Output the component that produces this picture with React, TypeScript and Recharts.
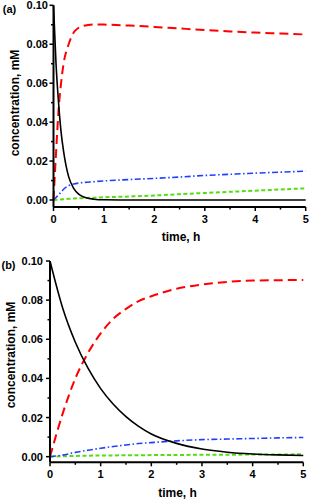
import { LineChart, Line, XAxis, YAxis } from "recharts";

// panel (a)
const timeA = [0, 0.05, 0.1, 0.15, 0.2, 0.3, 0.4, 0.5, 0.6, 0.8, 1, 1.5, 2, 2.5, 3, 3.5, 4, 4.5, 5];
const blackA = [0.1, 0.07, 0.05, 0.035, 0.025, 0.012, 0.006, 0.003, 0.0015, 0.0004, 0.0001, 0, 0, 0, 0, 0, 0, 0, 0];
const redA = [0, 0.024, 0.046, 0.06, 0.07, 0.08, 0.086, 0.0885, 0.0895, 0.0902, 0.0901, 0.0896, 0.0889, 0.0881, 0.0873, 0.0866, 0.086, 0.0855, 0.085];
const blueA = [0, 0.0013, 0.0027, 0.004, 0.0055, 0.0073, 0.0082, 0.0087, 0.009, 0.0094, 0.0098, 0.0105, 0.0111, 0.0118, 0.0126, 0.0132, 0.0138, 0.0143, 0.0148];
const greenA = [0, 0.0001, 0.0002, 0.0003, 0.0004, 0.0006, 0.0008, 0.0009, 0.001, 0.0012, 0.0014, 0.0018, 0.0023, 0.003, 0.0036, 0.0042, 0.0048, 0.0054, 0.006];

// panel (b)
const timeB = [0, 0.25, 0.5, 0.75, 1, 1.25, 1.5, 1.75, 2, 2.5, 3, 3.5, 4, 4.5, 5];
const blackB = [0.1, 0.076, 0.0585, 0.0452, 0.0348, 0.0268, 0.0205, 0.0155, 0.0116, 0.0068, 0.0039, 0.0023, 0.0014, 0.0009, 0.0006];
const redB = [0, 0.022, 0.04, 0.053, 0.063, 0.0705, 0.0755, 0.0795, 0.082, 0.0858, 0.088, 0.0893, 0.09, 0.0902, 0.0903];
const blueB = [0, 0.0008, 0.0022, 0.0033, 0.0043, 0.0052, 0.006, 0.0067, 0.0072, 0.0081, 0.0087, 0.009, 0.0093, 0.0096, 0.0098];
const greenB = [0, 0.0002, 0.0004, 0.0005, 0.0006, 0.00065, 0.0007, 0.00075, 0.0008, 0.0009, 0.00095, 0.001, 0.0011, 0.00115, 0.0012];

const xMajor = [0, 1, 2, 3, 4, 5];
const xMinor = [0.5, 1.5, 2.5, 3.5, 4.5];
const xLabels = ["0", "1", "2", "3", "4", "5"];
const yMajor = [0, 0.02, 0.04, 0.06, 0.08, 0.1];
const yMinor = [0.01, 0.03, 0.05, 0.07, 0.09];
const yLabels = ["0.00", "0.02", "0.04", "0.06", "0.08", "0.10"];

const xTicks = [...xMajor, ...xMinor].sort((a, b) => a - b);
const yTicks = [...yMajor, ...yMinor].sort((a, b) => a - b);

const FONT = '"Liberation Sans", Arial, sans-serif';

const makeRows = (t: number[], k: number[], r: number[], b: number[], g: number[]) =>
  t.map((time, i) => ({ t: time, black: k[i], red: r[i], blue: b[i], green: g[i] }));

const rowsA = makeRows(timeA, blackA, redA, blueA, greenA);
const rowsB = makeRows(timeB, blackB, redB, blueB, greenB);

const findIdx = (list: number[], v: number) => list.findIndex((m) => Math.abs(m - v) < 1e-9);

function XTick(props: any) {
  const { x, y, payload } = props;
  const i = findIdx(xMajor, payload.value);
  if (i < 0) {
    return <line x1={x} x2={x} y1={y} y2={y + 2.5} stroke="#000" strokeWidth={1.5} />;
  }
  return (
    <g>
      <line x1={x} x2={x} y1={y} y2={y + 4} stroke="#000" strokeWidth={1.5} />
      <text x={x} y={y + 11.5} textAnchor="middle" dominantBaseline="central" fontFamily={FONT} fontWeight="bold" fontSize={11} fill="#000">
        {xLabels[i]}
      </text>
    </g>
  );
}

function makeYTick(gap: number) {
  return (props: any) => {
    const { x, y, payload } = props;
    const i = findIdx(yMajor, payload.value);
    if (i < 0) {
      return <line x1={x - 2.5} x2={x} y1={y} y2={y} stroke="#000" strokeWidth={1.5} />;
    }
    return (
      <g>
        <line x1={x - 4} x2={x} y1={y} y2={y} stroke="#000" strokeWidth={1.5} />
        <text x={x - gap} y={y} textAnchor="end" dominantBaseline="central" fontFamily={FONT} fontWeight="bold" fontSize={11} fill="#000">
          {yLabels[i]}
        </text>
      </g>
    );
  };
}

interface PanelProps {
  rows: any[];
  top: number;
  height: number;
  left: number;
  right: number;
  plotTop: number;
  axisY: number;
  yMin: number;
  yGap: number;
  letter: string;
  letterPos: [number, number];
  yTitlePos: [number, number];
  xTitlePos: [number, number];
}

const textStyle = {
  position: "absolute" as const,
  fontFamily: FONT,
  fontWeight: "bold" as const,
  color: "#000",
  whiteSpace: "nowrap" as const,
  lineHeight: 1,
};

function Panel(p: PanelProps) {
  return (
    <div style={{ position: "absolute", left: 0, top: p.top, width: 311, height: p.height }}>
      <LineChart
        width={311}
        height={p.height}
        data={p.rows}
        margin={{ top: p.plotTop, right: 311 - p.right, bottom: 0, left: 0 }}
      >
        <XAxis
          dataKey="t"
          type="number"
          domain={[0, 5]}
          ticks={xTicks}
          interval={0}
          height={p.height - p.axisY}
          tickSize={0}
          tickMargin={0}
          tickLine={false}
          axisLine={{ stroke: "#000", strokeWidth: 2 }}
          tick={(props: any) => <XTick {...props} />}
        />
        <YAxis
          type="number"
          domain={[p.yMin, 0.1]}
          ticks={yTicks}
          interval={0}
          width={p.left}
          tickSize={0}
          tickMargin={0}
          tickLine={false}
          allowDataOverflow
          axisLine={{ stroke: "#000", strokeWidth: 2 }}
          tick={makeYTick(p.yGap)}
        />
        <Line dataKey="green" type="monotone" stroke="#55dd11" strokeWidth={2} strokeDasharray="4 2.5" dot={false} isAnimationActive={false} />
        <Line dataKey="blue" type="monotone" stroke="#1f3fff" strokeWidth={1.6} strokeDasharray="6 2.5 1.5 2.5" dot={false} isAnimationActive={false} />
        <Line dataKey="red" type="monotone" stroke="#ff0000" strokeWidth={2} strokeDasharray="9 5" dot={false} isAnimationActive={false} />
        <Line dataKey="black" type="monotone" stroke="#000000" strokeWidth={1.6} dot={false} isAnimationActive={false} />
      </LineChart>
      <div style={{ ...textStyle, fontSize: 11, left: p.letterPos[0], top: p.letterPos[1], transform: "translate(-50%, -50%)" }}>
        {p.letter}
      </div>
      <div
        style={{
          ...textStyle,
          fontSize: 12,
          left: p.yTitlePos[0],
          top: p.yTitlePos[1],
          transform: "translate(-50%, -50%) rotate(-90deg)",
        }}
      >
        concentration, mM
      </div>
      <div style={{ ...textStyle, fontSize: 12, left: p.xTitlePos[0], top: p.xTitlePos[1], transform: "translate(-50%, -50%)" }}>
        time, h
      </div>
    </div>
  );
}

export default function App() {
  return (
    <div style={{ position: "absolute", left: 0, top: 0, width: 311, height: 501, background: "#fff" }}>
      <Panel
        rows={rowsA}
        top={0}
        height={250}
        left={53.5}
        right={305.7}
        plotTop={5.3}
        axisY={207}
        yMin={-0.0036}
        yGap={5.5}
        letter="(a)"
        letterPos={[9.5, 9]}
        yTitlePos={[14.5, 102.5]}
        xTitlePos={[181, 237]}
      />
      <Panel
        rows={rowsB}
        top={250}
        height={251}
        left={50}
        right={303.3}
        plotTop={11}
        axisY={212.3}
        yMin={-0.00287}
        yGap={7}
        letter="(b)"
        letterPos={[8.5, 15]}
        yTitlePos={[10.5, 105]}
        xTitlePos={[177.5, 243]}
      />
    </div>
  );
}
